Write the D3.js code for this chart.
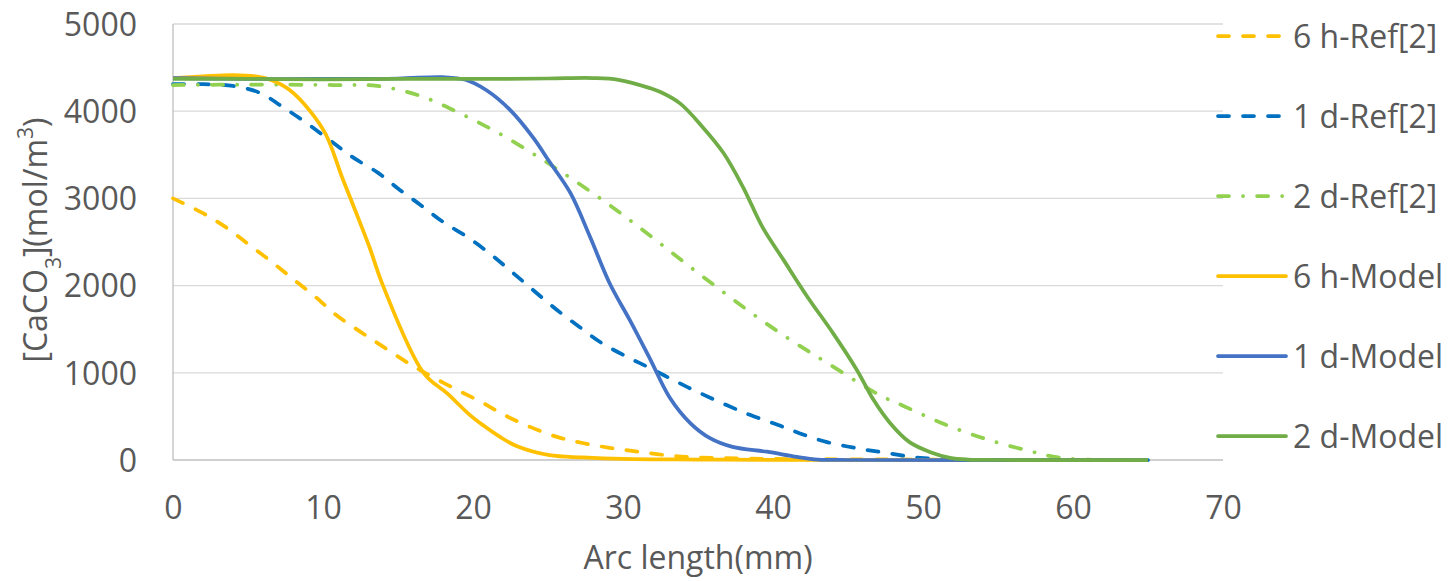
<!DOCTYPE html>
<html><head><meta charset="utf-8">
<script src="https://cdn.jsdelivr.net/npm/d3@7"></script>
<style>
html,body{margin:0;padding:0;background:#fff;}
svg text{font-family:"Open Sans","Liberation Sans",sans-serif;fill:#595959;}
</style></head>
<body><svg id="chart" width="1455" height="581"></svg>
<script>
const xTicks = [0,10,20,30,40,50,60,70];
const yTicks = [0,1000,2000,3000,4000,5000];
const seriesNames = ["6 h-Ref[2]","1 d-Ref[2]","2 d-Ref[2]","6 h-Model","1 d-Model","2 d-Model"];
const seriesColors = ["#FFC000","#0070C0","#92D050","#FFC000","#4472C4","#70AD47"];
const seriesDash = ["dash","dash","dashdot","solid","solid","solid"];

const ref6h = [[0,3000],[2,2830],[3.6,2660],[5.1,2465],[6.6,2270],[8,2075],[9.5,1870],[10.9,1660],[12.5,1470],[14,1300],[15.6,1120],[16.8,1000],[18.7,825],[20.6,660],[22.1,515],[23.8,380],[25.6,265],[27.3,195],[29.1,140],[31,95],[32.9,55],[35,30],[40,12],[45,8],[50,5],[55,2],[60,0],[65,0]];
const ref1d = [[0,4310],[2,4310],[4,4290],[5.8,4210],[7.3,4050],[8.9,3865],[10.7,3635],[12,3470],[13.7,3290],[15.1,3100],[16.5,2925],[18,2730],[19.6,2560],[21.1,2370],[22.5,2170],[24,1950],[25.6,1720],[27.1,1525],[28.5,1350],[30.3,1180],[31.8,1055],[33.6,895],[35.1,770],[36.9,630],[38.5,515],[40.3,405],[41.8,305],[43.6,205],[45.6,135],[47.6,80],[49.8,25],[52,5],[55,0],[65,0]];
const ref2d = [[0,4300],[5,4305],[10.7,4300],[13.6,4290],[16.5,4175],[19.2,3970],[21.8,3740],[24.4,3470],[26.8,3200],[29.25,2905],[31.6,2600],[33.95,2285],[36.3,1975],[38.65,1675],[41.1,1385],[43.6,1115],[47.1,745],[48.7,620],[51.4,413],[54.2,240],[57,107],[59,30],[61,5],[65,0]];
const model6h = [[0,4380],[2,4400],[4,4415],[5.5,4400],[6.5,4360],[7.8,4240],[9.1,4010],[10.2,3730],[11.3,3230],[12.2,2840],[13.1,2440],[14,2000],[16.7,1000],[18.3,760],[19.8,515],[20.7,395],[21.8,265],[22.9,160],[25.1,55],[27.3,30],[30,12],[35,5],[40,2],[50,0],[65,0]];
const model1d = [[0,4380],[5,4370],[10,4370],[15,4375],[18,4390],[19.5,4360],[20.9,4240],[22.5,4010],[24,3700],[25.1,3420],[26.5,3060],[27.8,2560],[29.1,2030],[30.5,1590],[31.8,1160],[33.1,720],[34.5,420],[35.8,250],[37.3,150],[39.6,95],[41.6,35],[43,5],[45,0],[65,0]];
const model2d = [[0,4370],[5,4370],[10,4365],[15,4370],[20,4370],[25,4375],[28,4380],[29.7,4360],[31.8,4265],[32.5,4220],[33.8,4090],[35.3,3820],[36.7,3520],[38,3130],[39.3,2670],[40.7,2295],[42.3,1870],[44,1455],[45.6,1030],[46.7,690],[47.8,425],[49.1,205],[50.5,90],[51.8,25],[53,5],[55,0],[65,0]];
const seriesData = [ref6h, ref1d, ref2d, model6h, model1d, model2d];

const svg = d3.select("#chart");
const x = d3.scaleLinear().domain([0,70]).range([173,1223]);
const y = d3.scaleLinear().domain([0,5000]).range([460,24]);
const FS = 32;

svg.append("g").selectAll("line").data(yTicks.filter(d=>d>0)).join("line")
  .attr("x1",x(0)).attr("x2",x(70)).attr("y1",d=>y(d)).attr("y2",d=>y(d))
  .attr("stroke","#d9d9d9").attr("stroke-width",1.3);
svg.append("line").attr("x1",x(0)).attr("x2",x(0)).attr("y1",y(0)).attr("y2",y(5000)).attr("stroke","#bfbfbf").attr("stroke-width",1.3);
svg.append("line").attr("x1",x(0)).attr("x2",x(70)).attr("y1",y(0)).attr("y2",y(0)).attr("stroke","#bfbfbf").attr("stroke-width",1.3);

const yAxis = svg.append("g").attr("transform",`translate(${x(0)},0)`)
  .call(d3.axisLeft(y).tickValues(yTicks).tickSize(0).tickPadding(36).tickFormat(d3.format("d")));
yAxis.select(".domain").remove();
yAxis.selectAll("text").style("font-size",FS+"px").attr("fill","#595959").attr("font-family",null).attr("dy","0.35em");
const xAxis = svg.append("g").attr("transform",`translate(0,${y(0)})`)
  .call(d3.axisBottom(x).tickValues(xTicks).tickSize(0).tickPadding(0).tickFormat(d3.format("d")));
xAxis.select(".domain").remove();
xAxis.selectAll("text").style("font-size",FS+"px").attr("fill","#595959").attr("font-family",null).attr("y",59).attr("dy","0");

const dashOf = t => t==="dash" ? "11,14" : t==="dashdot" ? "11,14,0.1,14" : null;
const line = d3.line().x(d=>x(d[0])).y(d=>y(Math.max(0,d[1]))).curve(d3.curveCatmullRom.alpha(0.5));
seriesData.forEach((data,i)=>{
  svg.append("path").datum(data).attr("d",line)
    .attr("fill","none").attr("stroke",seriesColors[i]).attr("stroke-width",3.75)
    .attr("stroke-linecap", seriesDash[i]==="solid" ? "butt" : "round")
    .attr("stroke-linejoin","round")
    .attr("stroke-dasharray",dashOf(seriesDash[i]));
});

const lg = svg.append("g");
seriesNames.forEach((name,i)=>{
  const yy = 36 + i*80;
  lg.append("line").attr("x1",1218).attr("x2",1286).attr("y1",yy).attr("y2",yy)
    .attr("stroke",seriesColors[i]).attr("stroke-width",3.75)
    .attr("stroke-linecap","round")
    .attr("stroke-dasharray",dashOf(seriesDash[i]));
  lg.append("text").attr("x",1293).attr("y",yy).attr("dy","0.36em")
    .style("font-size",FS+"px").text(name);
});

svg.append("text").attr("x",698).attr("y",569).attr("text-anchor","middle")
  .style("font-size",FS+"px").text("Arc length(mm)");
const yt = svg.append("text").attr("transform","translate(36,240) rotate(-90)").attr("text-anchor","middle")
  .attr("dy","0.35em").style("font-size",FS+"px");
yt.append("tspan").text("[CaCO");
yt.append("tspan").attr("baseline-shift","sub").style("font-size","21px").text("3");
yt.append("tspan").text("](mol/m");
yt.append("tspan").attr("baseline-shift","super").style("font-size","21px").text("3");
yt.append("tspan").text(")");
</script></body></html>
